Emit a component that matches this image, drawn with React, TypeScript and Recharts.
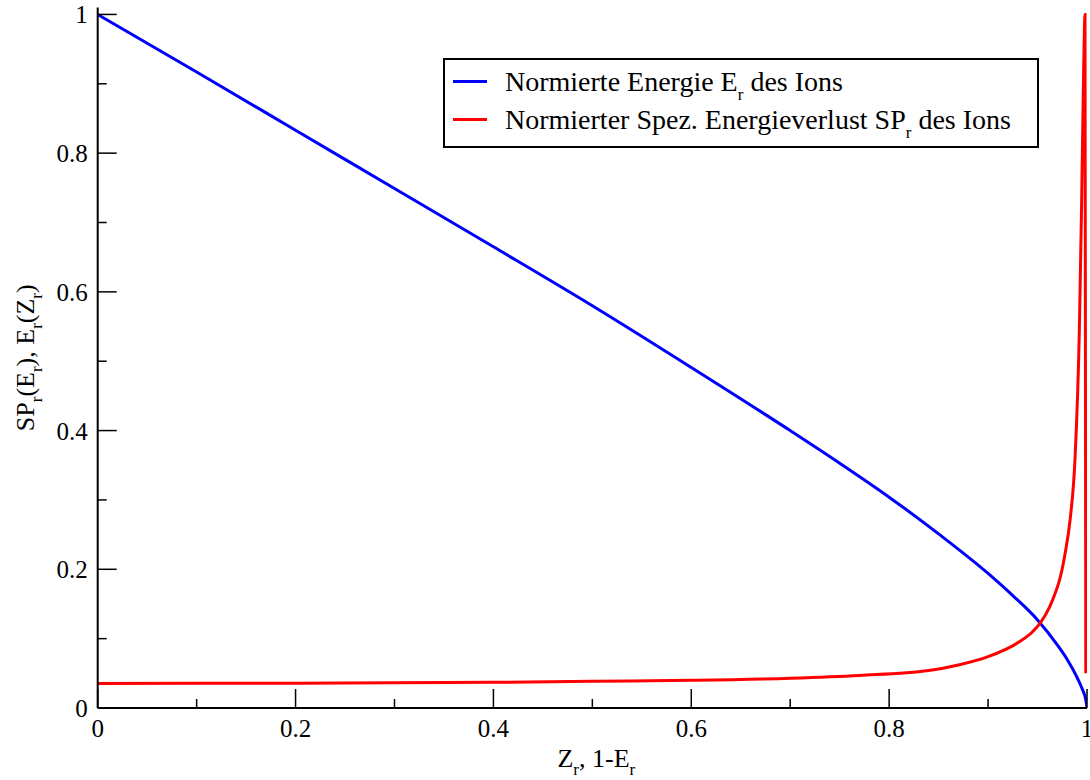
import { LineChart, Line, XAxis, YAxis, Legend } from "recharts"

const SERIF = "Liberation Serif, Tinos, DejaVu Serif, serif"
const TICK_FS = 25
const TITLE_FS = 26
const LEG_FS = 28

// x ticks (0.1 steps, every second one is labelled)
const X_TICKS = [0, 0.1, 0.2, 0.3, 0.4, 0.5, 0.6, 0.7, 0.8, 0.9, 1]
const X_LABELS: Record<string, string> = { "0": "0", "0.2": "0.2", "0.4": "0.4", "0.6": "0.6", "0.8": "0.8", "1": "1" }
const Y_TICKS = [0, 0.1, 0.2, 0.3, 0.4, 0.5, 0.6, 0.7, 0.8, 0.9, 1]
const Y_LABELS: Record<string, string> = { "0": "0", "0.2": "0.2", "0.4": "0.4", "0.6": "0.6", "0.8": "0.8", "1": "1" }

// Normierte Energie E_r over Z_r
const E_Z = [0, 0.1, 0.2, 0.3, 0.4, 0.5, 0.6, 0.7, 0.75, 0.8, 0.85, 0.9, 0.925, 0.95, 0.97, 0.98, 0.99, 0.995, 0.999, 1]
const E_VAL = [1, 0.917, 0.833, 0.749, 0.665, 0.58, 0.491, 0.4, 0.353, 0.304, 0.251, 0.194, 0.162, 0.127, 0.091, 0.07, 0.044, 0.028, 0.01, 0]

// Normierter spez. Energieverlust SP_r over 1-E_r
const SP_X = [0, 0.2, 0.4, 0.5, 0.6, 0.7, 0.77, 0.84, 0.87, 0.9, 0.93, 0.945, 0.9525, 0.962, 0.968, 0.9727, 0.978, 0.9828, 0.9879, 0.9922, 0.9946, 0.9966, 0.998, 0.9988]
const SP_VAL = [0.0355, 0.0358, 0.037, 0.0385, 0.04, 0.043, 0.047, 0.054, 0.062, 0.074, 0.094, 0.11, 0.122, 0.145, 0.166, 0.187, 0.224, 0.27, 0.36, 0.54, 0.73, 0.92, 1.0, 0.05]

const energy = E_Z.map((x, i) => ({ x, y: E_VAL[i] }))
const stopping = SP_X.map((x, i) => ({ x, y: SP_VAL[i] }))

const MAJ = 19
const MIN = 9
const isMajor = (lab: Record<string, string>, v: number) => lab[String(v)] !== undefined

// eslint-disable-next-line @typescript-eslint/no-explicit-any
function BottomTick({ x, y, payload }: any) {
  const v = payload.value
  const maj = isMajor(X_LABELS, v)
  return (
    <g>
      <line x1={x} x2={x} y1={y} y2={y - (maj ? MAJ : MIN)} stroke="#000" strokeWidth={1.5} />
      {maj && <text x={x} y={y + 29} textAnchor="middle" fontFamily={SERIF} fontSize={TICK_FS} fill="#000">{X_LABELS[String(v)]}</text>}
    </g>
  )
}

// eslint-disable-next-line @typescript-eslint/no-explicit-any
function TopTick({ x, y, payload }: any) {
  const maj = isMajor(X_LABELS, payload.value)
  return <line x1={x} x2={x} y1={y} y2={y + (maj ? MAJ : MIN)} stroke="#000" strokeWidth={1.5} />
}

// eslint-disable-next-line @typescript-eslint/no-explicit-any
function LeftTick({ x, y, payload }: any) {
  const v = payload.value
  const maj = isMajor(Y_LABELS, v)
  return (
    <g>
      <line x1={x} x2={x + (maj ? MAJ : MIN)} y1={y} y2={y} stroke="#000" strokeWidth={1.5} />
      {maj && <text x={x - 10} y={y + 9} textAnchor="end" fontFamily={SERIF} fontSize={TICK_FS} fill="#000">{Y_LABELS[String(v)]}</text>}
    </g>
  )
}

// eslint-disable-next-line @typescript-eslint/no-explicit-any
function RightTick({ x, y, payload }: any) {
  const maj = isMajor(Y_LABELS, payload.value)
  return <line x1={x} x2={x - (maj ? MAJ : MIN)} y1={y} y2={y} stroke="#000" strokeWidth={1.5} />
}

// eslint-disable-next-line @typescript-eslint/no-explicit-any
function XTitle({ viewBox }: any) {
  const cx = viewBox.x + viewBox.width / 2
  return (
    <text x={cx + 4} y={viewBox.y + 59} textAnchor="middle" fontFamily={SERIF} fontSize={TITLE_FS} fill="#000">
      Z<tspan dy={8} fontSize={17}>r</tspan><tspan dy={-8}>, 1-E</tspan><tspan dy={8} fontSize={17}>r</tspan>
    </text>
  )
}

// eslint-disable-next-line @typescript-eslint/no-explicit-any
function YTitle({ viewBox }: any) {
  const cy = viewBox.y + viewBox.height / 2
  const bx = 34
  return (
    <text x={bx} y={cy} transform={`rotate(-90, ${bx}, ${cy})`} textAnchor="middle" fontFamily={SERIF} fontSize={TITLE_FS} fill="#000">
      SP<tspan dy={8} fontSize={17}>r</tspan><tspan dy={-8}>(E</tspan><tspan dy={8} fontSize={17}>r</tspan>
      <tspan dy={-8}>), E</tspan><tspan dy={8} fontSize={17}>r</tspan><tspan dy={-8}>(Z</tspan>
      <tspan dy={8} fontSize={17}>r</tspan><tspan dy={-8}>)</tspan>
    </text>
  )
}

// eslint-disable-next-line @typescript-eslint/no-explicit-any
function LegendBox({ payload }: any) {
  return (
    <div style={{ boxSizing: "border-box", width: 596, height: 90, border: "2px solid #000", background: "#fff", paddingTop: 4 }}>
      {(payload ?? []).map((p: { value: string; color: string }) => {
        const [pre, post] = p.value.split("_r")
        return (
          <div key={p.value} style={{ display: "flex", alignItems: "center", height: 38 }}>
            <div style={{ width: 34, height: 3, background: p.color, marginLeft: 8, marginRight: 18, marginTop: -4 }} />
            <span style={{ fontFamily: SERIF, fontSize: LEG_FS, color: "#000", whiteSpace: "pre", lineHeight: "31px" }}>
              {pre}<span style={{ fontSize: 17, position: "relative", top: 9 }}>r</span>{post}
            </span>
          </div>
        )
      })}
    </div>
  )
}

export default function App() {
  return (
    <div style={{ position: "absolute", left: 0, top: 0, width: 1090, height: 780, background: "#fff" }}>
      <LineChart width={1090} height={780} margin={{ top: 7.5, right: 3, bottom: 0, left: 0 }}>
        <XAxis
          xAxisId="b" dataKey="x" type="number" domain={[0, 1]} allowDataOverflow
          ticks={X_TICKS} interval={0} tickSize={0} tickMargin={0} tickLine={false}
          tick={<BottomTick />} height={72}
          axisLine={{ stroke: "#000", strokeWidth: 2 }}
          label={<XTitle />}
        />
        <XAxis
          xAxisId="t" orientation="top" dataKey="x" type="number" domain={[0, 1]} allowDataOverflow
          ticks={X_TICKS} interval={0} tickSize={0} tickMargin={0} tickLine={false}
          tick={<TopTick />} height={0}
          axisLine={{ stroke: "#000", strokeWidth: 2 }}
        />
        <YAxis
          yAxisId="l" type="number" domain={[0, 1.01]} allowDataOverflow
          ticks={Y_TICKS} interval={0} tickSize={0} tickMargin={0} tickLine={false}
          tick={<LeftTick />} width={97.7}
          axisLine={{ stroke: "#000", strokeWidth: 2 }}
          label={<YTitle />}
        />
        <YAxis
          yAxisId="r" orientation="right" type="number" domain={[0, 1.01]} allowDataOverflow
          ticks={Y_TICKS} interval={0} tickSize={0} tickMargin={0} tickLine={false}
          tick={<RightTick />} width={0}
          axisLine={{ stroke: "#000", strokeWidth: 2 }}
        />
        <Legend
          layout="horizontal" verticalAlign="middle" align="center"
          wrapperStyle={{ left: 443, top: 58, width: 596, height: 90 }}
          content={<LegendBox />}
        />
        <Line xAxisId="b" yAxisId="l" data={energy} dataKey="y" name="Normierte Energie E_r des Ions"
          type="monotone" stroke="#0000ff" strokeWidth={3} dot={false} activeDot={false} isAnimationActive={false} />
        <Line xAxisId="b" yAxisId="l" data={stopping} dataKey="y" name="Normierter Spez. Energieverlust SP_r des Ions"
          type="monotone" stroke="#ff0000" strokeWidth={3} dot={false} activeDot={false} isAnimationActive={false} />
      </LineChart>
    </div>
  )
}
